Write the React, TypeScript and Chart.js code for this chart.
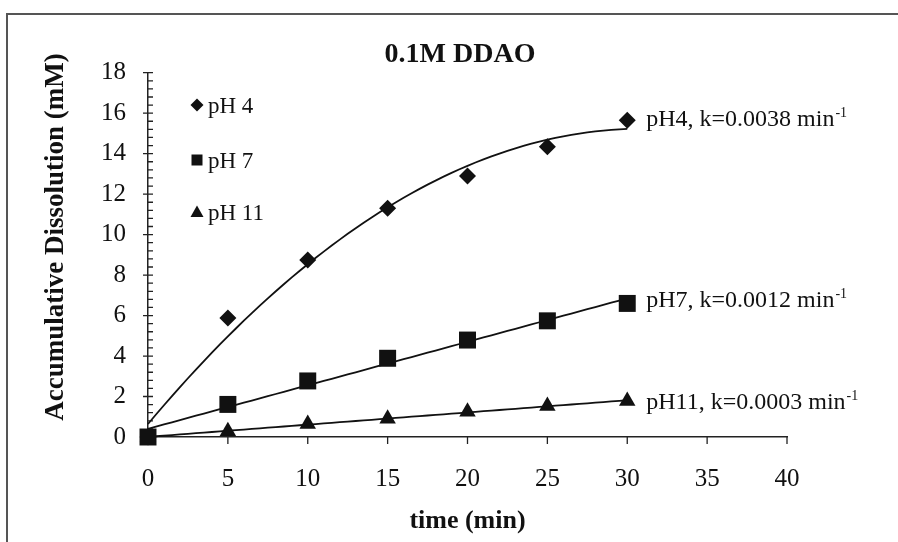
import React, { useEffect, useRef } from "react";
import { Chart, registerables } from "chart.js";

Chart.register(...registerables);

// ---- data ----
const times = [0, 5, 10, 15, 20, 25, 30];
const ph4 = [0, 5.88, 8.74, 11.3, 12.9, 14.34, 15.65];
const ph7 = [0, 1.61, 2.77, 3.89, 4.79, 5.74, 6.6];
const ph11 = [0, 0.28, 0.64, 0.9, 1.25, 1.53, 1.78];
const seriesNames = ["pH 4", "pH 7", "pH 11"];
const fitLabels = ["pH4, k=0.0038 min", "pH7, k=0.0012 min", "pH11, k=0.0003 min"];
const fitDegrees = [2, 1, 1];
const chartTitle = "0.1M DDAO";
const xTitle = "time (min)";
const yTitle = "Accumulative Dissolution (mM)";
const xRange = [0, 40];
const yRange = [0, 18];
const xStep = 5;
const yStep = 2;
const yMinorStep = 0.4;

const FONT = '"Liberation Serif", "Times New Roman", serif';
const INK = "#111";

// least-squares polynomial fit (trend lines, as in the original)
function polyfit(xs: number[], ys: number[], deg: number): number[] {
  const n = deg + 1;
  const A: number[][] = [];
  for (let r = 0; r < n; r++) {
    const row: number[] = [];
    for (let c = 0; c < n; c++) {
      let s = 0;
      for (let i = 0; i < xs.length; i++) s += Math.pow(xs[i], r + c);
      row.push(s);
    }
    let b = 0;
    for (let i = 0; i < xs.length; i++) b += ys[i] * Math.pow(xs[i], r);
    row.push(b);
    A.push(row);
  }
  for (let p = 0; p < n; p++) {
    let mx = p;
    for (let r = p + 1; r < n; r++) if (Math.abs(A[r][p]) > Math.abs(A[mx][p])) mx = r;
    [A[p], A[mx]] = [A[mx], A[p]];
    for (let r = 0; r < n; r++) {
      if (r === p) continue;
      const f = A[r][p] / A[p][p];
      for (let c = p; c <= n; c++) A[r][c] -= f * A[p][c];
    }
  }
  return A.map((row, i) => row[n] / row[i]);
}

function trend(xs: number[], ys: number[], deg: number) {
  const coef = polyfit(xs, ys, deg);
  const pts: { x: number; y: number }[] = [];
  const x0 = xs[0];
  const x1 = xs[xs.length - 1];
  const steps = 60;
  for (let i = 0; i <= steps; i++) {
    const x = x0 + ((x1 - x0) * i) / steps;
    let y = 0;
    for (let k = 0; k < coef.length; k++) y += coef[k] * Math.pow(x, k);
    pts.push({ x, y });
  }
  return pts;
}

const toPts = (ys: number[]) => times.map((t, i) => ({ x: t, y: ys[i] }));

const decorPlugin = {
  id: "decor",
  beforeDatasetsDraw(chart: any) {
    const { ctx } = chart;
    const xs = chart.scales.x;
    const ys = chart.scales.y;
    const ax = xs.getPixelForValue(xRange[0]);
    const ay = ys.getPixelForValue(yRange[0]);
    ctx.save();
    ctx.strokeStyle = "#222";
    ctx.lineWidth = 1.3;
    ctx.beginPath();
    const nMinor = Math.round((yRange[1] - yRange[0]) / yMinorStep);
    const per = Math.round(yStep / yMinorStep);
    for (let i = 0; i <= nMinor; i++) {
      const py = ys.getPixelForValue(yRange[0] + i * yMinorStep);
      const major = i % per === 0;
      ctx.moveTo(major ? ax - 5 : ax, py);
      ctx.lineTo(ax + 5, py);
    }
    for (let v = xRange[0]; v <= xRange[1]; v += xStep) {
      const px = xs.getPixelForValue(v);
      ctx.moveTo(px, ay);
      ctx.lineTo(px, ay + 7);
    }
    ctx.stroke();
    ctx.restore();
  },
  afterDraw(chart: any) {
    const { ctx, chartArea } = chart;
    ctx.save();
    // frame (top & left edges)
    ctx.strokeStyle = "#555";
    ctx.lineWidth = 2;
    ctx.beginPath();
    ctx.moveTo(7, 542);
    ctx.lineTo(7, 14);
    ctx.lineTo(898, 14);
    ctx.stroke();

    ctx.fillStyle = INK;
    // title
    ctx.font = `bold 28px ${FONT}`;
    ctx.textAlign = "center";
    ctx.textBaseline = "alphabetic";
    ctx.fillText(chartTitle, 460, 62);
    // x title
    ctx.font = `bold 26px ${FONT}`;
    ctx.fillText(xTitle, (chartArea.left + chartArea.right) / 2, 528);
    // y title
    ctx.save();
    ctx.font = `bold 27px ${FONT}`;
    ctx.translate(63, 237);
    ctx.rotate(-Math.PI / 2);
    ctx.fillText(yTitle, 0, 0);
    ctx.restore();

    // legend
    ctx.textAlign = "left";
    ctx.font = `23px ${FONT}`;
    const lx = 197;
    const legendY = [105, 160, 212];
    seriesNames.forEach((name, i) => {
      const cy = legendY[i];
      ctx.beginPath();
      if (i === 0) {
        ctx.moveTo(lx, cy - 6.5);
        ctx.lineTo(lx + 6.5, cy);
        ctx.lineTo(lx, cy + 6.5);
        ctx.lineTo(lx - 6.5, cy);
        ctx.closePath();
      } else if (i === 1) {
        ctx.rect(lx - 5.5, cy - 5.5, 11, 11);
      } else {
        ctx.moveTo(lx, cy - 6.5);
        ctx.lineTo(lx + 6.5, cy + 5);
        ctx.lineTo(lx - 6.5, cy + 5);
        ctx.closePath();
      }
      ctx.fill();
      ctx.fillText(name, 208, cy + 8);
    });

    // fit labels next to last points
    const series = [ph4, ph7, ph11];
    const xs = chart.scales.x;
    const ys = chart.scales.y;
    const dy = [-2, -4, 0];
    series.forEach((s, i) => {
      const px = xs.getPixelForValue(times[times.length - 1]) + 19;
      const py = ys.getPixelForValue(s[s.length - 1]) + dy[i];
      ctx.font = `24px ${FONT}`;
      ctx.fillText(fitLabels[i], px, py + 8);
      const w = ctx.measureText(fitLabels[i]).width;
      ctx.font = `14px ${FONT}`;
      ctx.fillText("-1", px + w + 1, py - 1);
    });
    ctx.restore();
  },
};

export default function App() {
  const ref = useRef<HTMLCanvasElement | null>(null);
  useEffect(() => {
    if (!ref.current) return;
    const lineStyle = {
      showLine: true,
      pointRadius: 0,
      borderColor: INK,
      borderWidth: 1.8,
      fill: false,
      clip: false as any,
    };
    const chart = new Chart(ref.current, {
      type: "scatter",
      data: {
        datasets: [
          {
            label: seriesNames[1],
            data: toPts(ph7),
            pointStyle: "rect",
            pointRadius: 12,
            backgroundColor: INK,
            borderColor: INK,
            borderWidth: 0,
            clip: false as any,
          },
          {
            label: seriesNames[0],
            data: toPts(ph4),
            pointStyle: "rectRot",
            pointRadius: 8.5,
            backgroundColor: INK,
            borderColor: INK,
            borderWidth: 0,
            clip: false as any,
          },
          {
            label: seriesNames[2],
            data: toPts(ph11),
            pointStyle: "triangle",
            pointRadius: 9.5,
            backgroundColor: INK,
            borderColor: INK,
            borderWidth: 0,
            clip: false as any,
          },
          { label: "fit pH 4", data: trend(times, ph4, fitDegrees[0]), ...lineStyle },
          { label: "fit pH 7", data: trend(times, ph7, fitDegrees[1]), ...lineStyle },
          { label: "fit pH 11", data: trend(times, ph11, fitDegrees[2]), ...lineStyle },
        ],
      },
      options: {
        animation: false,
        responsive: true,
        maintainAspectRatio: false,
        layout: { padding: { top: 72.7, right: 111, left: 0, bottom: 0 } },
        plugins: {
          legend: { display: false },
          title: { display: false },
          tooltip: { enabled: false },
        },
        scales: {
          x: {
            type: "linear",
            min: xRange[0],
            max: xRange[1],
            ticks: {
              stepSize: xStep,
              padding: 27,
              color: INK,
              maxRotation: 0,
              font: { family: FONT, size: 25 },
            },
            grid: { display: false, drawTicks: false, tickLength: 0 },
            border: { display: true, color: "#222", width: 1.5 },
            afterFit: (s: any) => {
              s.height = 105;
            },
          },
          y: {
            type: "linear",
            min: yRange[0],
            max: yRange[1],
            ticks: {
              stepSize: yStep,
              padding: 22,
              color: INK,
              font: { family: FONT, size: 25 },
            },
            grid: { display: false, drawTicks: false, tickLength: 0 },
            border: { display: true, color: "#222", width: 1.5 },
            afterFit: (s: any) => {
              s.width = 148;
            },
          },
        },
      },
      plugins: [decorPlugin],
    });
    return () => chart.destroy();
  }, []);
  return (
    <div
      style={{
        position: "absolute",
        left: 0,
        top: 0,
        width: 898,
        height: 542,
        background: "#fff",
      }}
    >
      <canvas ref={ref} />
    </div>
  );
}
